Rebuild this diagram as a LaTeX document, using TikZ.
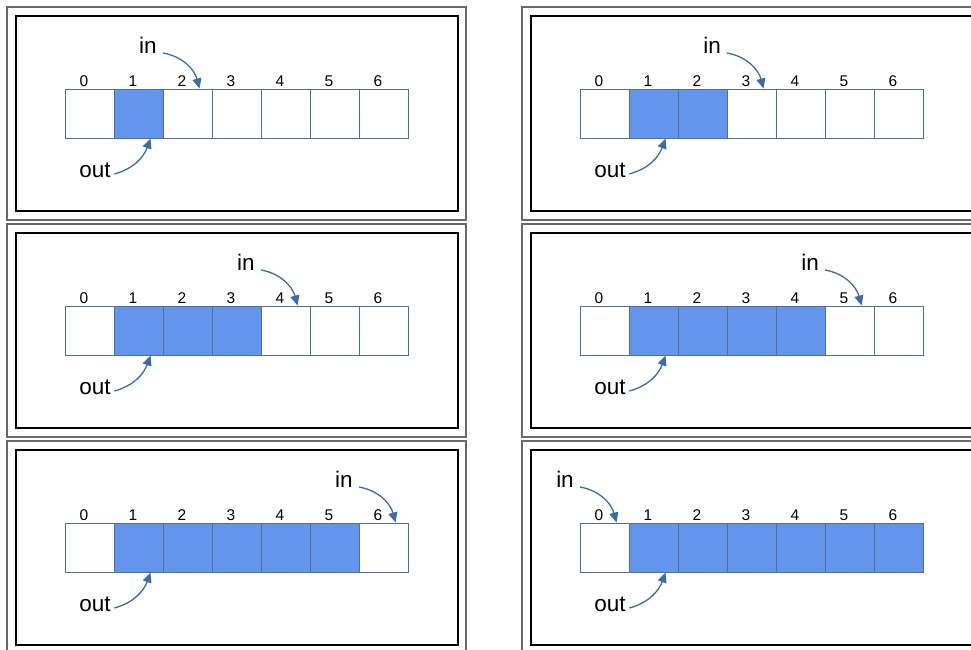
\documentclass[tikz,border=0pt]{standalone}
\usepackage{fontspec}
\setmainfont{Liberation Sans}
\usetikzlibrary{arrows.meta}
\definecolor{cellline}{RGB}{80,110,150}
\definecolor{cellfill}{RGB}{100,149,237}
\definecolor{arrowblue}{RGB}{58,108,168}
\definecolor{framegray}{RGB}{105,105,105}
\tikzset{
  cell/.style={draw=cellline, line width=1pt, minimum size=49pt, inner sep=0pt, fill=white},
  usedcell/.style={cell, fill=cellfill},
  idx/.style={font=\fontsize{15.5}{15.5}\selectfont, inner sep=0pt, anchor=base},
  ptr/.style={font=\fontsize{22.5}{22.5}\selectfont, inner sep=0pt, anchor=base},
  ptrarrow/.style={draw=arrowblue, line width=1.3pt, -{Triangle[length=10pt,width=9pt]}},
  outerframe/.style={draw=framegray, line width=1.3pt},
  innerframe/.style={draw=black, line width=1.6pt},
}
\begin{document}
\begin{tikzpicture}[x=1pt,y=-1pt]
\useasboundingbox (0,0) rectangle (971,649);
\clip (0,0) rectangle (971,649);
% six snapshots of a ring buffer, two per row
\foreach \k in {0,...,5}{
  \pgfmathtruncatemacro{\col}{mod(\k,2)}
  \pgfmathtruncatemacro{\row}{div(\k,2)}
  \pgfmathtruncatemacro{\last}{\k+1}
  \pgfmathtruncatemacro{\inpos}{mod(\k+2,7)}
  \begin{scope}[shift={(515*\col,217*\row)}]
    \draw[outerframe] (7,7) rectangle (466,220);
    \draw[innerframe] (16,16) rectangle (458,211);
    % buffer slots with their indices
    \foreach \i in {0,...,6}{
      \ifnum\i=0 \def\sty{cell}\else\ifnum\i>\last \def\sty{cell}\else\def\sty{usedcell}\fi\fi
      \node[\sty] (c\k-\i) at (89.5+49*\i,113.5) {};
      \node[idx] (n\k-\i) at (84+49*\i,86) {\i};
    }
    % read and write pointers
    \node[ptr] (in\k) at (50+49*\inpos,53) {in};
    \node[ptr] (out\k) at (95,177.5) {out};
    \draw[ptrarrow] ([xshift=6pt,yshift=0pt]in\k.base east)
      to[out=-10,in=105] ([xshift=-13pt]c\k-\inpos.north east);
    \draw[ptrarrow] ([xshift=3.5pt,yshift=3.5pt]out\k.base east)
      to[out=15,in=-110] ([xshift=-13pt]c\k-1.south east);
  \end{scope}
}
\end{tikzpicture}
\end{document}
